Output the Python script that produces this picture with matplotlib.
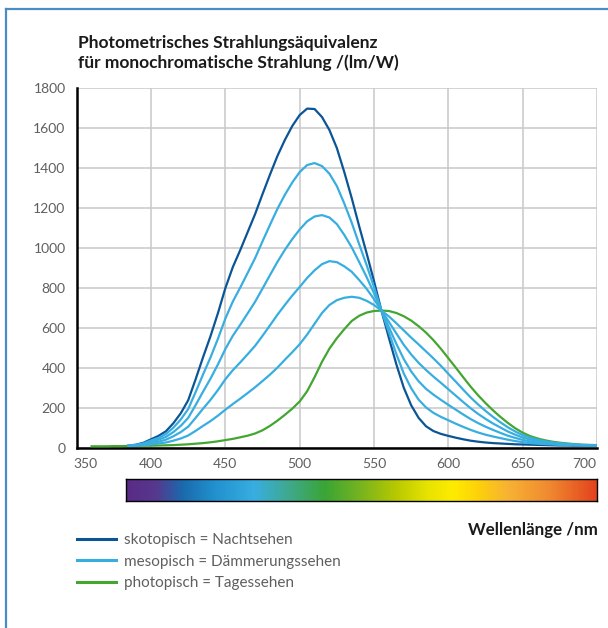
import numpy as np
import matplotlib
matplotlib.use("Agg")
import matplotlib.pyplot as plt
from matplotlib.colors import LinearSegmentedColormap
from matplotlib.lines import Line2D
from matplotlib.transforms import ScaledTranslation

plt.rcParams['font.family'] = ['Lato', 'DejaVu Sans']

# wavelengths (nm)
wl = np.arange(360, 701, 5)

# photopisch (Tagessehen), lm/W
photopic = [10, 10, 10, 11, 11, 12, 12, 13, 13, 14, 15, 16, 18, 20, 23, 26, 30, 35,
            41, 47, 55, 63, 74, 90, 112, 138, 167, 198, 234, 285, 355, 432, 498, 550,
            595, 636, 662, 678, 686, 688, 686, 676, 660, 638, 610, 578, 540, 497, 450,
            403, 355, 308, 265, 226, 190, 157, 127, 100, 78, 61, 49, 40, 33, 28, 24,
            21, 18, 17, 16]

# skotopisch (Nachtsehen), from 385 nm
wl_blue = wl[5:]
scotopic = [14, 18, 28, 45, 62, 85, 125, 175, 240, 345, 455, 560, 675, 800, 905, 990,
            1080, 1170, 1270, 1367, 1460, 1540, 1610, 1665, 1697, 1695, 1655, 1590, 1500,
            1380, 1250, 1110, 975, 835, 688, 552, 420, 303, 215, 152, 110, 86, 72, 62, 53,
            45, 38, 33, 29, 26, 24, 22, 20, 19, 18, 17, 16, 15, 14, 14, 13, 13, 12, 12]

# mesopisch (Dämmerungssehen), four adaptation levels, from 385 nm
meso_1 = [14, 17, 25, 39, 52, 71, 103, 144, 196, 281, 369, 454, 547, 648, 733, 803, 876,
          950, 1034, 1116, 1196, 1266, 1328, 1380, 1415, 1425, 1410, 1372, 1310, 1223, 1127,
          1020, 916, 805, 688, 579, 471, 374, 300, 243, 204, 177, 157, 140, 123, 107, 92, 79,
          68, 59, 51, 43, 36, 31, 26, 23, 21, 19, 17, 16, 15, 14, 13, 13]
meso_2 = [13, 16, 22, 32, 43, 57, 81, 112, 152, 216, 283, 348, 419, 496, 562, 617, 674,
          732, 798, 865, 931, 991, 1045, 1093, 1134, 1158, 1165, 1153, 1120, 1066, 1004, 931,
          856, 775, 688, 605, 522, 446, 384, 335, 297, 268, 242, 217, 193, 169, 146, 126, 108,
          92, 77, 63, 52, 42, 35, 29, 25, 22, 20, 18, 16, 15, 14, 14]
meso_3 = [13, 14, 19, 26, 33, 43, 60, 81, 108, 152, 198, 242, 291, 345, 390, 429, 470, 512,
          562, 614, 667, 716, 763, 806, 851, 889, 920, 935, 930, 909, 882, 841, 797, 745, 688,
          632, 574, 517, 469, 427, 391, 358, 327, 295, 263, 231, 200, 172, 147, 124, 104, 84,
          68, 54, 44, 37, 30, 26, 22, 20, 18, 16, 15, 14]
meso_4 = [12, 13, 16, 19, 24, 29, 38, 49, 64, 87, 112, 136, 163, 193, 221, 248, 276, 305,
          336, 368, 403, 442, 480, 520, 568, 622, 676, 716, 740, 752, 757, 752, 737, 716, 688,
          659, 625, 589, 553, 519, 484, 449, 412, 372, 333, 293, 254, 219, 187, 157, 130, 105,
          84, 66, 53, 43, 35, 29, 25, 22, 19, 17, 16, 15]

# spectrum bar colours
spec_wl = [380, 400, 418, 440, 467, 490, 515, 540, 563, 585, 603, 620, 640, 668, 700]
spec_col = ['#5b2a86', '#55398f', '#1a6aae', '#2291cf', '#38aee1', '#3fa98f', '#3aa535',
            '#78b41f', '#b5c800', '#e8e300', '#ffeb00', '#fdd10a', '#f8b233', '#f08a30',
            '#e3441e']

dark_blue = '#0b5596'
light_blue = '#38aee0'
green = '#43a631'
grey_txt = '#5f5f5f'

fig = plt.figure(figsize=(6.08, 6.28), dpi=100)

# outer frame (top and left)
frame_col = '#4a8cc4'
fig.add_artist(Line2D([6 / 608, 6 / 608], [0, 1 - 9 / 628], color=frame_col, lw=1.6,
                      transform=fig.transFigure))
fig.add_artist(Line2D([6 / 608, 1], [1 - 9 / 628, 1 - 9 / 628], color=frame_col, lw=1.6,
                      transform=fig.transFigure))

ax = fig.add_axes([76.7 / 608, 1 - 448.3 / 628, 520.3 / 608, 360.3 / 628])
ax.plot(wl_blue, scotopic, color=dark_blue, lw=1.6, zorder=3, solid_joinstyle='round')
for m in [meso_1, meso_2, meso_3, meso_4]:
    ax.plot(wl_blue, m, color=light_blue, lw=1.6, zorder=4, solid_joinstyle='round')
ax.plot(wl, photopic, color=green, lw=1.6, zorder=3, solid_joinstyle='round')

ax.set_xlim(350, 700)
ax.set_ylim(0, 1800)
ax.set_xticks(range(350, 701, 50))
ax.set_yticks(range(0, 1801, 200))
ax.grid(True, color='#c8c8c8', lw=1.1)
ax.set_axisbelow(True)
for s in ['top', 'right']:
    ax.spines[s].set_visible(False)
for s in ['left', 'bottom']:
    ax.spines[s].set_linewidth(1.8)
    ax.spines[s].set_color('black')
ax.tick_params(length=0, labelsize=10, labelcolor=grey_txt)
ax.tick_params(axis='x', pad=7)
ax.tick_params(axis='y', pad=8)
xlabs = ax.get_xticklabels()
xlabs[0].set_transform(xlabs[0].get_transform() + ScaledTranslation(6 / 72, 0, fig.dpi_scale_trans))
xlabs[-1].set_transform(xlabs[-1].get_transform() + ScaledTranslation(-9 / 72, 0, fig.dpi_scale_trans))

fig.text(78 / 608, 1 - 53 / 628, 'Photometrisches Strahlungsäquivalenz\nfür monochromatische Strahlung /(lm/W)',
         fontsize=12.5, fontweight='bold', color='#1a1a1a', va='center', ha='left', linespacing=1.2)

# spectrum bar
cmap = LinearSegmentedColormap.from_list(
    'spec', [((w - spec_wl[0]) / (spec_wl[-1] - spec_wl[0]), c) for w, c in zip(spec_wl, spec_col)])
axb = fig.add_axes([126 / 608, 1 - 501 / 628, 471 / 608, 22 / 628])
axb.imshow(np.linspace(0, 1, 600).reshape(1, -1), cmap=cmap, aspect='auto',
           extent=[spec_wl[0], spec_wl[-1], 0, 1])
axb.set_xticks([])
axb.set_yticks([])
for s in axb.spines.values():
    s.set_linewidth(1.0)
    s.set_color('black')

fig.text(598 / 608, 1 - 530 / 628, 'Wellenlänge /nm', fontsize=12.2, fontweight='bold',
         color='#1a1a1a', ha='right', va='center')

handles = [Line2D([], [], color=dark_blue, lw=2.2),
           Line2D([], [], color=light_blue, lw=2.2),
           Line2D([], [], color=green, lw=2.2)]
labels = ['skotopisch = Nachtsehen', 'mesopisch = Dämmerungssehen', 'photopisch = Tagessehen']
fig.legend(handles, labels, loc='upper left', bbox_to_anchor=(77 / 608, 1 - 533 / 628),
           frameon=False, borderpad=0, borderaxespad=0, handlelength=2.55, handletextpad=0.55,
           labelspacing=0.5, fontsize=11, labelcolor=grey_txt)

fig.savefig('out.png', dpi=100)
